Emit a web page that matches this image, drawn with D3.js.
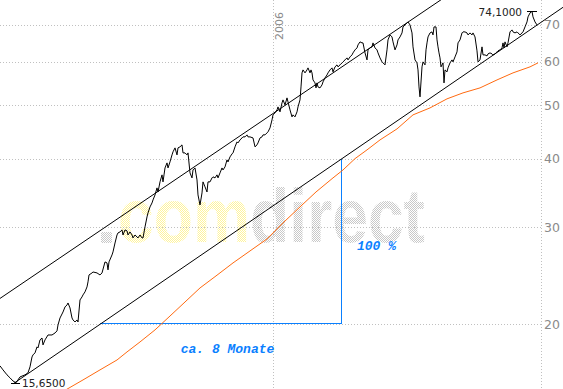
<!DOCTYPE html>
<html><head><meta charset="utf-8">
<script src="https://cdn.jsdelivr.net/npm/d3@7"></script>
<style>html,body{margin:0;padding:0;background:#fff;overflow:hidden}</style>
</head><body><svg id="c" width="563" height="389"></svg>
<script>
// ---------- data ----------
const priceDates = [
"2005-04-03","2005-04-06","2005-04-10","2005-04-13","2005-04-16","2005-04-19","2005-04-23","2005-04-28","2005-05-01","2005-05-03",
"2005-05-05","2005-05-06","2005-05-08","2005-05-10","2005-05-11","2005-05-13","2005-05-15","2005-05-16","2005-05-18","2005-05-21",
"2005-05-25","2005-05-28","2005-05-30","2005-05-31","2005-06-02","2005-06-05","2005-06-07","2005-06-09","2005-06-10","2005-06-12",
"2005-06-14","2005-06-15","2005-06-17","2005-06-19","2005-06-20","2005-06-22","2005-06-24","2005-06-25","2005-06-27","2005-06-29",
"2005-06-30","2005-07-01","2005-07-04","2005-07-05","2005-07-09","2005-07-12","2005-07-14","2005-07-17","2005-07-19","2005-07-20",
"2005-07-21","2005-07-24","2005-07-25","2005-07-27","2005-07-29","2005-07-30","2005-08-01","2005-08-03","2005-08-04","2005-08-06",
"2005-08-08","2005-08-09","2005-08-11","2005-08-13","2005-08-14","2005-08-16","2005-08-18","2005-08-19","2005-08-21","2005-08-23",
"2005-08-24","2005-08-26","2005-08-28","2005-08-29","2005-08-31","2005-09-02","2005-09-03","2005-09-05","2005-09-07","2005-09-08",
"2005-09-10","2005-09-12","2005-09-13","2005-09-14","2005-09-15","2005-09-17","2005-09-18","2005-09-20","2005-09-22","2005-09-23",
"2005-09-25","2005-09-27","2005-09-28","2005-09-30","2005-10-02","2005-10-03","2005-10-05","2005-10-07","2005-10-08","2005-10-10",
"2005-10-12","2005-10-13","2005-10-15","2005-10-17","2005-10-18","2005-10-20","2005-10-22","2005-10-23","2005-10-25","2005-10-27",
"2005-10-28","2005-10-30","2005-11-01","2005-11-02","2005-11-04","2005-11-06","2005-11-07","2005-11-09","2005-11-11","2005-11-12",
"2005-11-14","2005-11-16","2005-11-17","2005-11-19","2005-11-21","2005-11-22","2005-11-24","2005-11-26","2005-11-27","2005-11-29",
"2005-12-01","2005-12-02","2005-12-04","2005-12-06","2005-12-07","2005-12-09","2005-12-12","2005-12-14","2005-12-16","2005-12-17",
"2005-12-19","2005-12-21","2005-12-22","2005-12-24","2005-12-26","2005-12-27","2005-12-29","2005-12-31","2006-01-01","2006-01-03",
"2006-01-05","2006-01-06","2006-01-08","2006-01-10","2006-01-11","2006-01-13","2006-01-15","2006-01-16","2006-01-18","2006-01-20",
"2006-01-21","2006-01-23","2006-01-25","2006-01-26","2006-01-28","2006-01-29","2006-01-30","2006-01-31","2006-02-02","2006-02-04",
"2006-02-05","2006-02-07","2006-02-08","2006-02-09","2006-02-10","2006-02-12","2006-02-13","2006-02-14","2006-02-15","2006-02-17",
"2006-02-19","2006-02-20","2006-02-22","2006-02-24","2006-02-25","2006-02-27","2006-03-01","2006-03-02","2006-03-04","2006-03-06",
"2006-03-07","2006-03-09","2006-03-11","2006-03-12","2006-03-14","2006-03-16","2006-03-17","2006-03-19","2006-03-21","2006-03-22",
"2006-03-24","2006-03-26","2006-03-27","2006-03-29","2006-03-31","2006-04-01","2006-04-03","2006-04-05","2006-04-06","2006-04-08",
"2006-04-10","2006-04-11","2006-04-13","2006-04-15","2006-04-16","2006-04-18","2006-04-20","2006-04-21","2006-04-23","2006-04-25",
"2006-04-26","2006-04-28","2006-04-30","2006-05-01","2006-05-03","2006-05-05","2006-05-06","2006-05-08","2006-05-10","2006-05-11",
"2006-05-13","2006-05-15","2006-05-16","2006-05-18","2006-05-20","2006-05-21","2006-05-23","2006-05-25","2006-05-26","2006-05-27",
"2006-05-28","2006-05-30","2006-05-31","2006-06-02","2006-06-03","2006-06-04","2006-06-05","2006-06-07","2006-06-09","2006-06-10",
"2006-06-11","2006-06-13","2006-06-14","2006-06-15","2006-06-16","2006-06-17","2006-06-18","2006-06-19","2006-06-20","2006-06-21",
"2006-06-22","2006-06-24","2006-06-25","2006-06-27","2006-06-29","2006-06-30","2006-07-02","2006-07-04","2006-07-05","2006-07-07",
"2006-07-09","2006-07-10","2006-07-12","2006-07-14","2006-07-15","2006-07-17","2006-07-19","2006-07-20","2006-07-22","2006-07-24",
"2006-07-25","2006-07-27","2006-07-29","2006-07-30","2006-08-01","2006-08-03","2006-08-04","2006-08-06","2006-08-08","2006-08-09",
"2006-08-11","2006-08-13","2006-08-14","2006-08-16","2006-08-18","2006-08-19","2006-08-20","2006-08-21","2006-08-23","2006-08-24",
"2006-08-26","2006-08-28","2006-08-29","2006-08-31","2006-09-02","2006-09-03","2006-09-05","2006-09-07","2006-09-08","2006-09-10",
"2006-09-12","2006-09-13","2006-09-15","2006-09-17","2006-09-18","2006-09-20","2006-09-22"];
const priceValues = [
16.80,16.52,16.18,15.98,15.77,15.65,16.04,16.18,16.32,16.73,
17.44,17.59,17.74,18.19,18.11,18.73,18.88,18.34,18.73,19.12,
19.12,19.28,19.45,19.94,20.53,21.05,21.50,21.68,21.86,21.41,
20.53,20.36,20.19,20.36,20.19,22.14,22.42,22.61,22.90,23.38,
23.88,24.58,24.79,24.89,24.79,24.58,24.79,25.96,25.85,25.11,
25.96,26.73,27.07,28.10,29.06,29.31,29.43,29.68,29.06,29.68,
29.56,29.06,29.43,29.06,28.70,29.06,28.82,28.70,29.06,28.70,
28.70,30.06,31.34,31.87,32.68,33.23,33.65,34.36,35.39,34.79,
36.29,37.37,36.29,37.37,38.47,39.29,38.47,39.46,40.63,41.15,
41.84,40.63,41.84,42.02,42.37,40.97,40.97,40.63,40.97,37.68,
36.90,38.15,38.47,36.59,34.36,32.95,34.65,36.29,35.54,34.79,
36.29,36.29,36.90,37.06,36.90,37.37,36.90,37.68,38.47,38.15,
38.64,39.79,39.45,40.29,40.80,40.97,42.02,42.90,42.72,43.26,
43.62,43.81,43.81,44.18,43.81,43.81,43.62,42.02,42.37,42.72,
43.62,43.81,44.18,44.18,44.55,44.74,45.49,47.04,48.04,48.45,
49.05,49.67,48.65,50.51,51.15,50.09,51.58,50.72,49.05,47.64,
48.04,47.64,48.65,49.67,51.15,54.00,57.27,57.99,57.27,57.99,
58.48,57.27,57.99,57.27,55.61,54.92,53.78,54.92,54.00,53.78,
54.46,55.15,56.08,56.79,57.27,57.99,58.48,57.51,58.73,59.22,
58.73,59.22,59.72,59.97,60.47,60.98,60.47,61.23,61.75,62.27,
63.06,63.59,64.39,65.21,64.93,64.93,62.27,60.47,63.06,63.59,
63.86,64.93,63.59,63.06,62.27,60.98,59.97,59.72,59.22,63.06,
65.75,67.14,66.57,65.21,63.06,64.39,65.75,66.57,67.70,69.42,
70.00,70.59,70.89,70.00,67.70,63.86,60.47,59.72,57.99,54.00,
51.80,58.73,59.97,59.22,63.06,64.93,66.57,67.70,67.99,67.14,
69.42,69.42,65.75,63.86,62.27,60.98,58.73,59.22,59.72,54.92,
57.99,57.51,58.48,59.72,60.47,59.97,61.23,62.53,64.93,65.75,
67.70,67.99,67.99,67.70,67.14,67.70,67.14,67.70,66.57,62.80,
59.97,60.47,63.86,61.75,61.75,61.49,62.01,62.27,62.01,61.75,
62.01,62.53,62.80,63.06,63.59,64.93,63.59,65.21,63.86,64.93,
67.99,68.56,67.99,67.70,67.99,67.70,67.14,67.70,67.99,69.42,
70.89,72.40,73.60,74.10,72.40,70.89,70.00];

// 200-day moving average (orange)
const maDates = ["2005-06-06","2005-06-25","2005-07-12","2005-07-29","2005-08-08","2005-08-21","2005-09-05","2005-09-20","2005-10-05","2005-10-20",
"2005-11-05","2005-11-22","2005-12-09","2005-12-26","2006-01-11","2006-01-28","2006-02-13","2006-03-02","2006-03-12","2006-03-24",
"2006-04-05","2006-04-18","2006-05-05","2006-05-21","2006-06-07","2006-06-24","2006-07-10","2006-07-27","2006-08-13","2006-08-29",
"2006-09-15","2006-09-23"];
const maValues = [15.13,15.84,16.52,17.22,17.81,18.57,19.53,20.70,21.95,23.28,
24.48,25.85,27.18,28.58,30.56,32.68,34.79,36.90,38.15,40.00,
41.49,43.26,45.30,48.04,49.46,51.37,52.67,53.78,55.61,57.27,
58.73,59.72];

// trend channel lines
const upperTrendDates = ["2005-04-03","2006-06-19"];
const upperTrendValues = [22.28, 78.0];
const lowerTrendDates = ["2005-04-16","2006-10-18"];
const lowerTrendValues = [15.58, 75.36];

// blue annotation (doubling in ca. 8 months)
const spanDates = ["2005-07-12","2006-03-10"];
const spanValues = [20, 40];
const spanLabels = ["100 %", "ca. 8 Monate"];

const yTicks = [20, 30, 40, 50, 60, 70];
const yearTicks = ["2006-01-01"];
const yearLabels = ["2006"];
const highPoint = {date: "2006-09-17", value: 74.10, label: "74,1000"};
const lowPoint = {date: "2005-04-19", value: 15.65, label: "15,6500"};

// ---------- drawing ----------
const W = 563, H = 389, plotRight = 541;
const parse = d3.timeParse("%Y-%m-%d");
const svg = d3.select("#c");

const x = d3.scaleTime().domain([parse("2005-04-03"), parse("2006-09-26")]).range([0, plotRight]);
const y = d3.scaleLog().domain([15.25, 77.7]).range([H, 0]);

const defs = svg.append("defs");
function dither(id, color) {
  const p = defs.append("pattern").attr("id", id).attr("width", 2).attr("height", 2)
    .attr("patternUnits", "userSpaceOnUse");
  p.append("rect").attr("x", 0).attr("y", 0).attr("width", 1).attr("height", 1).attr("fill", color);
  p.append("rect").attr("x", 1).attr("y", 1).attr("width", 1).attr("height", 1).attr("fill", color);
}
dither("dy", "#fff49c");
dither("dg", "#c8c8c8");

// watermark
svg.append("rect").attr("x", 101).attr("y", 232).attr("width", 11).attr("height", 11).attr("fill", "url(#dg)");
const wm = svg.append("text").attr("x", 118).attr("y", 242)
  .attr("font-family", "'Liberation Sans', Arial, sans-serif").attr("font-weight", "bold")
  .attr("font-size", 76).attr("textLength", 307).attr("lengthAdjust", "spacingAndGlyphs");
wm.append("tspan").attr("fill", "url(#dy)").text("com");
wm.append("tspan").attr("fill", "url(#dg)").text("direct");

// horizontal grid
const grid = svg.append("g").attr("shape-rendering", "crispEdges");
grid.selectAll("line.h").data(yTicks).join("line")
  .attr("x1", 0).attr("x2", plotRight)
  .attr("y1", d => Math.round(y(d)) + 0.5).attr("y2", d => Math.round(y(d)) + 0.5)
  .attr("stroke", "#c0c0c0").attr("stroke-dasharray", "1,2");
// vertical year grid
grid.selectAll("line.v").data(yearTicks).join("line")
  .attr("x1", d => Math.round(x(parse(d))) + 0.5).attr("x2", d => Math.round(x(parse(d))) + 0.5)
  .attr("y1", 0).attr("y2", H)
  .attr("stroke", "#c0c0c0").attr("stroke-dasharray", "1,2");
// right axis line
grid.append("line").attr("x1", plotRight + 0.5).attr("x2", plotRight + 0.5).attr("y1", 0).attr("y2", H)
  .attr("stroke", "#c0c0c0").attr("stroke-dasharray", "1,2");

// y tick labels
svg.selectAll("text.yt").data(yTicks).join("text")
  .attr("x", plotRight + 3).attr("y", d => y(d)).attr("dy", "0.36em")
  .attr("font-family", "'DejaVu Sans', Verdana, sans-serif").attr("font-size", 12.5)
  .attr("fill", "#8a8a8a").text(d => d);

// year labels
svg.selectAll("text.yr").data(yearTicks).join("text")
  .attr("transform", d => `translate(${x(parse(d)) + 10},40) rotate(-90)`)
  .attr("font-family", "'DejaVu Sans', Verdana, sans-serif").attr("font-size", 11)
  .attr("fill", "#8a8a8a").text((d, i) => yearLabels[i]);

// blue annotation, drawn as 1px filled bars
const blueColor = "#0a80ff";
const sx0 = Math.round(x(parse(spanDates[0]))), sx1 = Math.round(x(parse(spanDates[1])));
const sy0 = Math.round(y(spanValues[0])) - 1, sy1 = Math.round(y(spanValues[1]));
const ann = svg.append("g").attr("shape-rendering", "crispEdges").attr("fill", blueColor);
ann.append("rect").attr("x", sx0).attr("y", sy0).attr("width", sx1 - sx0 + 1).attr("height", 1);
ann.append("rect").attr("x", sx1).attr("y", sy1).attr("width", 1).attr("height", sy0 - sy1 + 1);
const monoFont = "'Liberation Mono', 'Courier New', monospace";
svg.append("text").attr("x", sx1 + 16).attr("y", (sy0 + sy1) / 2 + 9)
  .attr("font-family", monoFont).attr("font-weight", "bold").attr("font-style", "italic")
  .attr("font-size", 13).attr("fill", blueColor).text(spanLabels[0]);
svg.append("text").attr("x", (sx0 + sx1) / 2 + 7).attr("y", sy0 + 30).attr("text-anchor", "middle")
  .attr("font-family", monoFont).attr("font-weight", "bold").attr("font-style", "italic")
  .attr("font-size", 13).attr("fill", blueColor).text(spanLabels[1]);

const line = d3.line().x(d => x(d.date)).y(d => y(d.value));

// moving average
const ma = maDates.map((d, i) => ({date: parse(d), value: maValues[i]}));
svg.append("path").datum(ma).attr("d", line).attr("fill", "none")
  .attr("stroke", "#ff6a10").attr("stroke-width", 1);

// trend lines
const up = upperTrendDates.map((d, i) => ({date: parse(d), value: upperTrendValues[i]}));
const lo = lowerTrendDates.map((d, i) => ({date: parse(d), value: lowerTrendValues[i]}));
[up, lo].forEach(t => svg.append("path").datum(t).attr("d", line).attr("fill", "none")
  .attr("stroke", "#000").attr("stroke-width", 1));

// price
const price = priceDates.map((d, i) => ({date: parse(d), value: priceValues[i]}));
svg.append("path").datum(price).attr("d", line).attr("fill", "none")
  .attr("stroke", "#000").attr("stroke-width", 1);

// high / low markers
const hx = x(parse(highPoint.date)), hy = Math.round(y(highPoint.value)) + 0.5;
svg.append("line").attr("x1", hx - 5).attr("x2", hx + 5).attr("y1", hy).attr("y2", hy).attr("stroke", "#000");
svg.append("text").attr("x", hx - 10).attr("y", hy + 4).attr("text-anchor", "end")
  .attr("font-family", "'DejaVu Sans', Verdana, sans-serif").attr("font-size", 10.5)
  .attr("fill", "#222").text(highPoint.label);
const lx = x(parse(lowPoint.date)), ly = Math.round(y(lowPoint.value)) + 0.5;
svg.append("line").attr("x1", lx - 5).attr("x2", lx + 4).attr("y1", ly).attr("y2", ly).attr("stroke", "#000");
svg.append("text").attr("x", lx + 6).attr("y", ly + 3.5)
  .attr("font-family", "'DejaVu Sans', Verdana, sans-serif").attr("font-size", 10.5)
  .attr("fill", "#222").text(lowPoint.label);
</script>
</body></html>
